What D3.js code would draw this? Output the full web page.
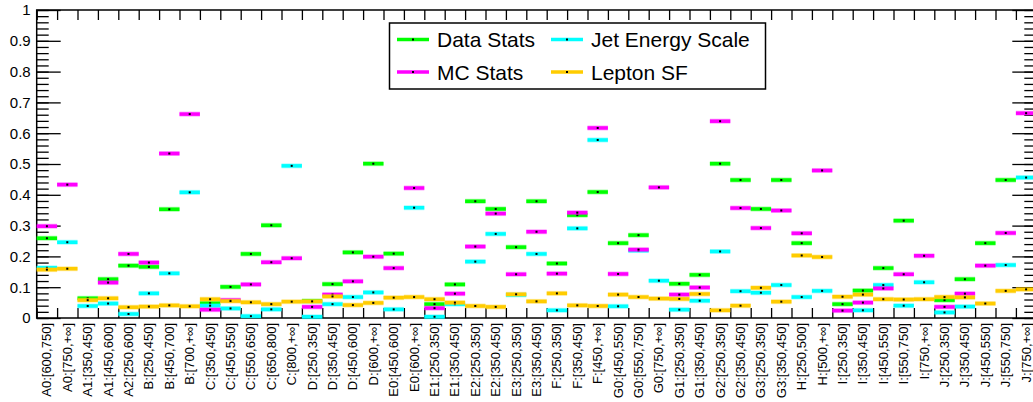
<!DOCTYPE html>
<html>
<head>
<meta charset="utf-8">
<script src="https://cdn.jsdelivr.net/npm/d3@7"></script>
<style>
  body { margin: 0; background: #fff; }
  svg { display: block; font-family: "Liberation Sans", Arial, Helvetica, sans-serif; }
</style>
</head>
<body>
<div id="chart"></div>
<script>
// Define constants
const WIDTH = 1033;
const HEIGHT = 402;
const LEFT = 36.7, RIGHT = 1036.3, TOP = 10, BOTTOM = 318;

// Bin labels
const categories = [
  "A0:[600,750]", "A0:[750,+∞]", "A1:[350,450]", "A1:[450,600]", "A2:[250,600]",
  "B:[250,450]", "B:[450,700]", "B:[700,+∞]",
  "C:[350,450]", "C:[450,550]", "C:[550,650]", "C:[650,800]", "C:[800,+∞]",
  "D:[250,350]", "D:[350,450]", "D:[450,600]", "D:[600,+∞]",
  "E0:[450,600]", "E0:[600,+∞]", "E1:[250,350]", "E1:[350,450]",
  "E2:[250,350]", "E2:[350,450]", "E3:[250,350]", "E3:[350,450]",
  "F:[250,350]", "F:[350,450]", "F:[450,+∞]",
  "G0:[450,550]", "G0:[550,750]", "G0:[750,+∞]", "G1:[250,350]", "G1:[350,450]",
  "G2:[250,350]", "G2:[350,450]", "G3:[250,350]", "G3:[350,450]",
  "H:[250,500]", "H:[500,+∞]",
  "I:[250,350]", "I:[350,450]", "I:[450,550]", "I:[550,750]", "I:[750,+∞]",
  "J:[250,350]", "J:[350,450]", "J:[450,550]", "J:[550,750]", "J:[750,+∞]"
];

// Relative uncertainties per bin (null = not shown)
const dataStats = [
  0.259, null, 0.064, 0.126, 0.170, 0.166, 0.353, null,
  0.048, 0.101, 0.208, 0.301, null,
  0.055, 0.110, 0.213, 0.501,
  0.209, null, 0.045, 0.109,
  0.379, 0.354, 0.230, 0.379,
  0.177, 0.334, 0.409,
  0.243, 0.269, null, 0.111, 0.140,
  0.501, 0.448, 0.354, 0.448,
  0.243, null,
  0.045, 0.089, 0.162, 0.316, null,
  0.058, 0.126, 0.243, 0.448, null
];
const jesVals = [
  0.163, 0.246, 0.039, 0.047, 0.013, 0.080, 0.145, 0.408,
  0.040, 0.031, 0.006, 0.028, 0.494,
  0.004, 0.045, 0.068, 0.083,
  0.028, 0.358, 0.004, 0.045,
  0.183, 0.273, 0.075, 0.208,
  0.025, 0.291, 0.578,
  0.038, 0.219, 0.121, 0.027, 0.056,
  0.216, 0.087, 0.082, 0.107,
  0.068, 0.088,
  null, 0.025, 0.107, 0.040, 0.116,
  0.018, 0.037, null, 0.172, 0.456
];
const mcStats = [
  0.298, 0.433, null, 0.115, 0.208, 0.180, 0.534, 0.662,
  0.027, 0.058, 0.109, 0.181, 0.194,
  0.036, 0.076, 0.119, 0.199,
  0.162, 0.422, 0.032, 0.079,
  0.232, 0.339, 0.142, 0.280,
  0.144, 0.342, 0.617,
  0.143, 0.222, 0.424, 0.076, 0.099,
  0.639, 0.357, 0.292, 0.349,
  0.275, 0.479,
  0.024, 0.050, 0.096, 0.142, 0.202,
  0.036, 0.079, 0.170, 0.276, 0.665
];
const leptonSF = [
  0.157, 0.160, 0.058, 0.064, 0.035, 0.037, 0.041, 0.038,
  0.061, 0.055, 0.051, 0.045, 0.053,
  0.054, 0.070, 0.042, 0.049,
  0.066, 0.068, 0.061, 0.050,
  0.039, 0.036, 0.077, 0.054,
  0.080, 0.041, 0.039,
  0.076, 0.068, 0.063, 0.062, 0.078,
  0.025, 0.040, 0.098, 0.053,
  0.203, 0.198,
  0.069, 0.076, 0.061, 0.060, 0.061,
  0.068, 0.067, 0.047, 0.088, 0.093
];
const yTicks = [0, 0.1, 0.2, 0.3, 0.4, 0.5, 0.6, 0.7, 0.8, 0.9, 1];

// draw order: green, cyan, magenta, orange
const series = [
  { name: "Data Stats", values: dataStats, color: "#00ff00" },
  { name: "Jet Energy Scale", values: jesVals, color: "#00ffff" },
  { name: "MC Stats", values: mcStats, color: "#ff00ff" },
  { name: "Lepton SF", values: leptonSF, color: "#ffcc00" }
];

const svg = d3.select("#chart")
  .append("svg")
  .attr("width", WIDTH)
  .attr("height", HEIGHT);

// Scales
const x = d3.scaleBand().domain(categories).range([LEFT, RIGHT]).padding(0);
const xEdge = d3.scaleLinear().domain([0, categories.length]).range([LEFT, RIGHT]);
const y = d3.scaleLinear().domain([0, 1]).range([BOTTOM, TOP]);

// Frame
svg.append("rect")
  .attr("x", LEFT).attr("y", TOP)
  .attr("width", RIGHT - LEFT).attr("height", BOTTOM - TOP)
  .attr("fill", "none").attr("stroke", "#000").attr("stroke-width", 1.5);

// Y axis: major + minor ticks, left and right
const minorVals = d3.range(0, 51).map(i => i / 50);
svg.append("g")
  .attr("transform", `translate(${LEFT},0)`)
  .call(d3.axisLeft(y).tickValues(minorVals).tickSize(-12).tickFormat(""))
  .call(g => g.select(".domain").remove());
svg.append("g")
  .attr("transform", `translate(${LEFT},0)`)
  .call(d3.axisLeft(y).tickValues(yTicks).tickSize(-24).tickPadding(6).tickFormat(d3.format("~g")))
  .call(g => g.select(".domain").remove())
  .call(g => g.selectAll("text").attr("font-size", 15).attr("fill", "#000").attr("font-family", null));
svg.append("g")
  .attr("transform", `translate(${RIGHT},0)`)
  .call(d3.axisRight(y).tickValues(minorVals).tickSize(-12).tickFormat(""))
  .call(g => g.select(".domain").remove());
svg.append("g")
  .attr("transform", `translate(${RIGHT},0)`)
  .call(d3.axisRight(y).tickValues(yTicks).tickSize(-24).tickFormat(""))
  .call(g => g.select(".domain").remove());
svg.selectAll(".tick line").attr("stroke", "#000").attr("stroke-width", 1.3);

// X axis ticks at bin edges, bottom and top
const edges = d3.range(0, categories.length + 1);
svg.append("g")
  .attr("transform", `translate(0,${BOTTOM})`)
  .call(d3.axisBottom(xEdge).tickValues(edges).tickSize(-10).tickFormat(""))
  .call(g => g.select(".domain").remove())
  .call(g => g.selectAll("line").attr("stroke-width", 1.3));
svg.append("g")
  .attr("transform", `translate(0,${TOP})`)
  .call(d3.axisTop(xEdge).tickValues(edges).tickSize(-10).tickFormat(""))
  .call(g => g.select(".domain").remove())
  .call(g => g.selectAll("line").attr("stroke-width", 1.3));

// Bin labels, rotated
svg.append("g")
  .selectAll("text")
  .data(categories)
  .enter()
  .append("text")
  .attr("transform", d => `translate(${x(d) + x.bandwidth() / 2},${BOTTOM + 5}) rotate(-90)`)
  .attr("text-anchor", "end")
  .attr("dy", "0.35em")
  .attr("font-size", 13)
  .text(d => d);

// Error markers
series.forEach(s => {
  const g = svg.append("g");
  const pts = categories.map((c, i) => ({ c, v: s.values[i] })).filter(d => d.v != null);
  g.selectAll("line.halo")
    .data(pts).enter().append("line")
    .attr("x1", d => x(d.c)).attr("x2", d => x(d.c) + x.bandwidth())
    .attr("y1", d => y(d.v)).attr("y2", d => y(d.v))
    .attr("stroke", s.color).attr("stroke-opacity", 0.35).attr("stroke-width", 5);
  g.selectAll("line.bar")
    .data(pts).enter().append("line")
    .attr("x1", d => x(d.c)).attr("x2", d => x(d.c) + x.bandwidth())
    .attr("y1", d => y(d.v)).attr("y2", d => y(d.v))
    .attr("stroke", s.color).attr("stroke-width", 3.5);
  g.selectAll("rect")
    .data(pts).enter().append("rect")
    .attr("x", d => x(d.c) + x.bandwidth() / 2 - 1)
    .attr("y", d => y(d.v) - 1)
    .attr("width", 2).attr("height", 2)
    .attr("fill", "#000");
});

// Legend
const legend = svg.append("g");
legend.append("rect")
  .attr("x", 389.5).attr("y", 23)
  .attr("width", 376).attr("height", 66)
  .attr("fill", "#fff").attr("stroke", "#000").attr("stroke-width", 1.5);
const legendOrder = [series[0], series[1], series[2], series[3]];
legendOrder.forEach((s, i) => {
  const col = i % 2, row = Math.floor(i / 2);
  const lx = col === 0 ? 397 : 551;
  const ly = row === 0 ? 39.5 : 72;
  legend.append("line")
    .attr("x1", lx).attr("x2", lx + 32)
    .attr("y1", ly).attr("y2", ly)
    .attr("stroke", s.color).attr("stroke-width", 3.5);
  legend.append("rect")
    .attr("x", lx + 15).attr("y", ly - 1).attr("width", 2).attr("height", 2)
    .attr("fill", "#000");
  legend.append("text")
    .attr("x", lx + 40).attr("y", ly)
    .attr("dy", "0.36em")
    .attr("font-size", 21)
    .text(s.name);
});
</script>
</body>
</html>
